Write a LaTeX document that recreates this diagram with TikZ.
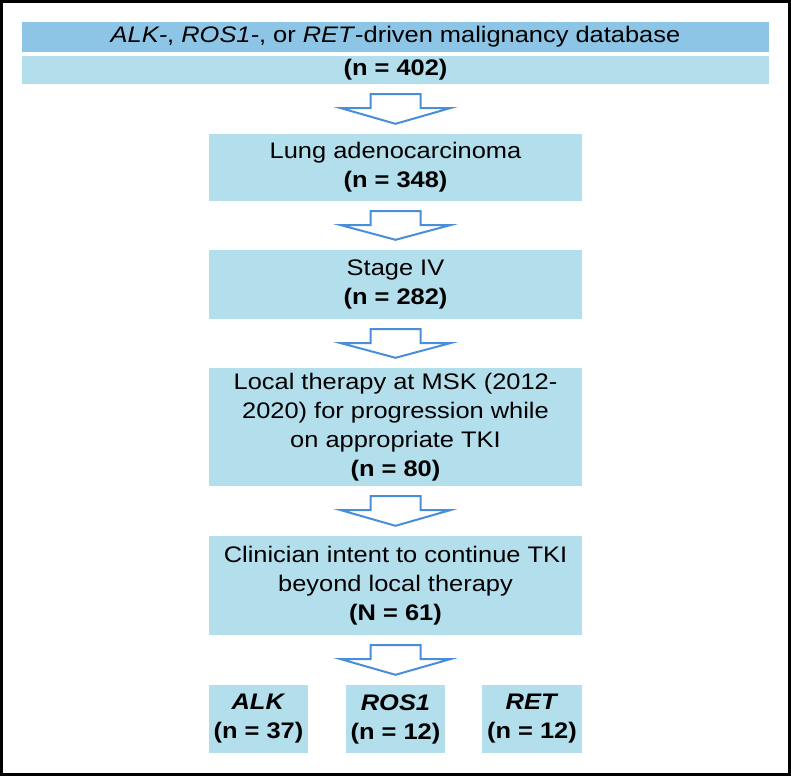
\documentclass[tikz,border=0pt]{standalone}
\usepackage{fontspec}
\setmainfont{Liberation Sans}[FakeStretch=1.13]
\usetikzlibrary{calc}
\definecolor{boxdark}{HTML}{8DC5E6}
\definecolor{boxlight}{HTML}{B3DEEC}
\definecolor{arrowblue}{HTML}{4A8EDB}
\newcommand{\flowarrow}[2]{%
  \draw[barrow] ($(#1.south)+(-25,10)$) -- ($(#1.south)+(25,10)$)
    -- ($(#1.south)+(25,24)$) -- ($(#1.south)+(54.5,24)$)
    -- ($(#2.north)+(0,-10)$)
    -- ($(#1.south)+(-54.5,24)$) -- ($(#1.south)+(-25,24)$) -- cycle;}
\begin{document}
\begin{tikzpicture}[x=1pt,y=-1pt,
  box/.style={fill=boxlight, draw=none, inner sep=0pt, align=center,
    font=\fontsize{22.5}{29}\selectfont},
  barrow/.style={draw=arrowblue, line width=2pt, fill=white, line join=miter}]
\useasboundingbox (0,0) rectangle (791,776);
\fill[white] (0,0) rectangle (791,776);
\draw[line width=3pt] (1.5,1.5) rectangle (789.5,774.5);

\node[box, fill=boxdark, minimum width=747, minimum height=30] (title) at (395.5,37)
  {\textit{ALK-}, \textit{ROS1-}, or \textit{RET}-driven malignancy database};
\node[box, minimum width=747, minimum height=28] (n402) at (395.5,70) {\textbf{(n = 402)}};
\node[box, minimum width=373, minimum height=67] (lung) at (395.5,167.5)
  {Lung adenocarcinoma\\\textbf{(n = 348)}};
\node[box, minimum width=373, minimum height=69] (stage) at (395.5,284.5)
  {Stage IV\\\textbf{(n = 282)}};
\node[box, minimum width=373, minimum height=118] (local) at (395.5,427)
  {Local therapy at MSK (2012-\\2020) for progression while\\on appropriate TKI\\\textbf{(n = 80)}};
\node[box, minimum width=373, minimum height=99] (clin) at (395.5,585.5)
  {Clinician intent to continue TKI\\beyond local therapy\\\textbf{(N = 61)}};
\node[box, minimum width=99, minimum height=68] (alk) at (258.5,719)
  {\textbf{\textit{ALK}}\\\textbf{(n = 37)}};
\node[box, minimum width=99, minimum height=68] (ros) at (395.5,719)
  {\textbf{\textit{ROS1}}\\\textbf{(n = 12)}};
\node[box, minimum width=100, minimum height=68] (ret) at (532,719)
  {\textbf{\textit{RET}}\\\textbf{(n = 12)}};

\flowarrow{n402}{lung}
\flowarrow{lung}{stage}
\flowarrow{stage}{local}
\flowarrow{local}{clin}
\flowarrow{clin}{ros}
\end{tikzpicture}
\end{document}
